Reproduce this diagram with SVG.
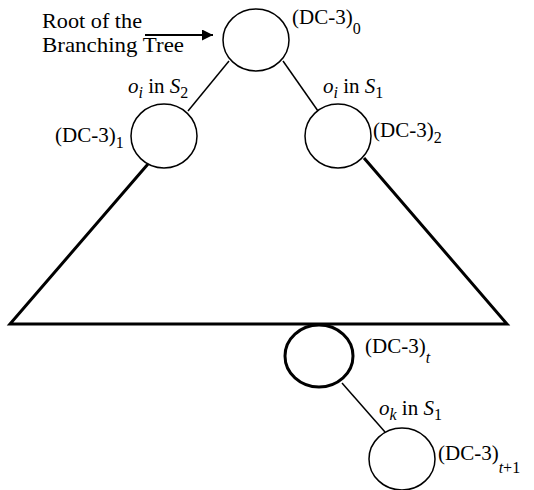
<svg xmlns="http://www.w3.org/2000/svg" width="534" height="490" viewBox="0 0 534 490">
<style>
text{font-family:"Liberation Serif","Times New Roman",serif;font-size:21px;fill:#000}
.big{font-size:22px}
.sub{font-size:16px}
.it{font-style:italic}
.node{fill:#fff;stroke:#000;stroke-width:1.5}
.thick{stroke-width:3}
.edge{stroke:#000;stroke-width:1.5;fill:none}
.tri{stroke:#000;stroke-width:3;fill:none}
</style>
<defs>
<marker id="ah" viewBox="0 0 10 10" refX="10" refY="5" markerWidth="11" markerHeight="11" markerUnits="userSpaceOnUse" orient="auto">
<path d="M0,0 L10,5 L0,10 Z" fill="#000"/>
</marker>
</defs>
<g id="connectors">
<line class="edge" x1="229" y1="61" x2="188" y2="111"/>
<line class="edge" x1="283" y1="61" x2="318" y2="111"/>
<polyline class="tri" points="148,164 10,324 507,324 364,158"/>
<line class="edge" x1="342" y1="383" x2="385" y2="432"/>
<line x1="145" y1="35" x2="213" y2="35" stroke="#000" stroke-width="1.8" marker-end="url(#ah)"/>
</g>
<g id="root-label">
<text class="big" x="42" y="28" textLength="100" lengthAdjust="spacingAndGlyphs">Root of the</text>
<text class="big" x="42" y="52" textLength="142" lengthAdjust="spacingAndGlyphs">Branching Tree</text>
</g>
<g id="n0">
<ellipse class="node" cx="256" cy="40" rx="33" ry="31"/>
<text x="292" y="24">(DC-3)<tspan class="sub" dy="10">0</tspan></text>
</g>
<g id="n1">
<ellipse class="node" cx="164" cy="136" rx="33" ry="32"/>
<text x="55" y="142">(DC-3)<tspan class="sub" dy="6">1</tspan></text>
</g>
<g id="n2">
<ellipse class="node" cx="338" cy="136" rx="33" ry="32"/>
<text x="373" y="137">(DC-3)<tspan class="sub" dy="6">2</tspan></text>
</g>
<g id="nt">
<ellipse class="node thick" cx="319" cy="356" rx="34" ry="31"/>
<text x="365" y="353">(DC-3)<tspan class="sub it" dy="10">t</tspan></text>
</g>
<g id="nt1">
<ellipse class="node" cx="402" cy="459" rx="33" ry="31"/>
<text x="438" y="460">(DC-3)<tspan class="sub" dy="13"><tspan class="it">t</tspan>+1</tspan></text>
</g>
<g id="edge-labels">
<text x="128" y="93"><tspan class="it">o</tspan><tspan class="sub it" dy="5">i</tspan><tspan dy="-5"> in </tspan><tspan class="it">S</tspan><tspan class="sub" dy="5">2</tspan></text>
<text x="323" y="93"><tspan class="it">o</tspan><tspan class="sub it" dy="5">i</tspan><tspan dy="-5"> in </tspan><tspan class="it">S</tspan><tspan class="sub" dy="5">1</tspan></text>
<text x="379" y="415"><tspan class="it">o</tspan><tspan class="sub it" dy="5">k</tspan><tspan dy="-5"> in </tspan><tspan class="it">S</tspan><tspan class="sub" dy="5">1</tspan></text>
</g>
</svg>
